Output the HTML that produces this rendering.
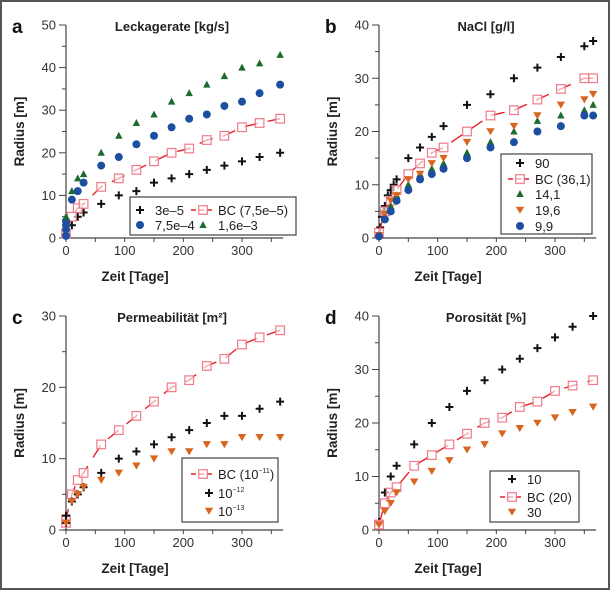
<!DOCTYPE html>
<html><head><meta charset="utf-8">
<style>
html,body{margin:0;padding:0;background:#fff;}
svg{display:block;font-family:"Liberation Sans",sans-serif;}
</style></head>
<body>
<svg id="chart" width="610" height="590" viewBox="0 0 610 590">
<rect x="1" y="1" width="608" height="588" fill="none" stroke="#555" stroke-width="2"/>
</svg>
<script>
// ---- Panel a data: Leckagerate ----
const aDays = [0,10,20,30,60,90,120,150,180,210,240,270,300,330,365];
const aS1 = [1,3,5,6,8,10,11,13,14,15,16,17,18,19,20];          // 3e-5
const aBC = [1,5,7,8,12,14,16,18,20,21,23,24,26,27,28];         // BC 7,5e-5
const aS3Days = [0,0,0,0,10,20,30,60,90,120,150,180,210,240,270,300,330,365];
const aS3 = [0.5,2,3,4,9,11,13,17,19,22,24,26,28,29,31,32,34,36]; // 7,5e-4
const aS4 = [5,11,14,15,20,24,27,29,32,34,36,38,40,41,43];      // 1,6e-3
// ---- Panel b data: NaCl ----
const bDays90 = [0,2,5,8,10,15,20,25,30,50,70,90,110,150,190,230,270,310,350,365];
const b90 = [0.5,2,4,5,6,8,9,10,11,15,17,19,21,25,27,30,32,34,36,37];
const bDays = [0,10,20,30,50,70,90,110,150,190,230,270,310,350,365];
const bBC = [1,5,7,9,12,14,16,17,20,23,24,26,28,30,30];
const b141 = [0.5,4,6,8,10,12,13,14,16,18,20,22,23,24,25];
const b196 = [0.5,4.5,7,8,11,12,14,15,18,20,21,23,25,26,27];
const b99 = [0.3,3.5,5,7,9,11,12,13,15,17,18,20,21,23,23];
// ---- Panel c data: Permeabilitaet ----
const cDays = [0,0,10,20,30,60,90,120,150,180,210,240,270,300,330,365];
const cBC = [1,1.5,5,7,8,12,14,16,18,20,21,23,24,26,27,28];
const c12 = [1,2,4,5,6,8,10,11,12,13,14,15,16,16,17,18];
const c13 = [1,1,4,5,6,7,8,9,10,11,11,12,12,13,13,13];
// ---- Panel d data: Porositaet ----
const dDays = [0,0,10,20,30,60,90,120,150,180,210,240,270,300,330,365];
const d10 = [1,1.5,7,10,12,16,20,23,26,28,30,32,34,36,38,40];
const dBC = [1,1,5,7,8,12,14,16,18,20,21,23,24,26,27,28];
const d30 = [1,1,3.5,5,7,9,11,13,15,16,18,19,20,21,22,23];
// tick labels
const xTicks = [0,100,200,300];

const NS="http://www.w3.org/2000/svg";
const svg=document.getElementById('chart');
function mk(tag,attrs,parent){const e=document.createElementNS(NS,tag);for(const k in attrs)e.setAttribute(k,attrs[k]);(parent||svg).appendChild(e);return e;}
const RED='#e3222b', PINK='#f07a8a', BLUE='#1c4f9f', GREEN='#1c6b2e', ORANGE='#d8661f';

function marker(g,type,x,y){
  let e;
  if(type==='plus'){
    e=mk('path',{d:`M${x-4},${y}H${x+4}M${x},${y-4}V${y+4}`,stroke:'#111','stroke-width':2,fill:'none'},g);
  }else if(type==='square'){
    e=mk('rect',{x:x-4.3,y:y-4.3,width:8.6,height:8.6,fill:'#fff','fill-opacity':0.6,stroke:PINK,'stroke-width':1.2},g);
  }else if(type==='circle'){
    e=mk('circle',{cx:x,cy:y,r:4,fill:BLUE},g);
  }else if(type==='tri'){
    e=mk('path',{d:`M${x},${y-4}L${x+3.7},${y+3}L${x-3.7},${y+3}Z`,fill:GREEN},g);
  }else if(type==='dtri'){
    e=mk('path',{d:`M${x},${y+3.8}L${x+4.2},${y-3.3}L${x-4.2},${y-3.3}Z`,fill:ORANGE},g);
  }
  return e;
}

function panel(o){
  const g=mk('g',{});
  
  
  const sx=d=>o.x0+d*176/300;
  const sy=v=>o.y0-(v/o.ymax)*(o.y0-o.ytop);
  const ax=mk('path',{d:`M${o.x0},${o.ytop}V${o.y0}M${o.x0-3},${o.y0}H${sx(365)+3}`,stroke:'#444','stroke-width':1.2,fill:'none'},g);
  
  
  for(let v=0;v<=o.ymax;v+=o.ystep/2){
    const major=Math.abs(v/o.ystep-Math.round(v/o.ystep))<1e-6;
    mk('line',{x1:o.x0-(major?7:4),x2:o.x0,y1:sy(v),y2:sy(v),stroke:'#444','stroke-width':1},g);
    if(major){
      const t=mk('text',{x:o.x0-10,y:sy(v)+4.5,'text-anchor':'end','font-size':13,fill:'#333'},g);
      t.textContent=v;
      
      
    }
  }
  for(let d=0;d<=350;d+=50){
    mk('line',{x1:sx(d),x2:sx(d),y1:o.y0,y2:o.y0+4,stroke:'#444','stroke-width':1},g);
  }
  xTicks.forEach(d=>{
    const t=mk('text',{x:sx(d),y:o.y0+17,'text-anchor':'middle','font-size':13,fill:'#333'},g);
    t.textContent=d;
    
    
  });
  const lt=mk('text',{x:o.x0-54,y:o.ytop+8,'font-size':19,'font-weight':'bold',fill:'#111'},g);
  lt.textContent=o.letter;
  
  
  const tt=mk('text',{x:o.tx,y:o.ytop+6,'text-anchor':'middle','font-size':13,'font-weight':'bold',fill:'#222'},g);
  tt.textContent=o.title;
  
  
  const yt=mk('text',{transform:`translate(${o.x0-42},${(o.ytop+o.y0)/2}) rotate(-90)`,'text-anchor':'middle','font-size':13.5,'font-weight':'bold',fill:'#222'},g);
  yt.textContent='Radius [m]';
  
  
  const xt=mk('text',{x:o.x0+69,y:o.y0+43,'text-anchor':'middle','font-size':13.5,'font-weight':'bold',fill:'#222'},g);
  xt.textContent='Zeit [Tage]';
  
  
  o.series.forEach(s=>{
    const sg=mk('g',{},g);
    
    
    if(s.line){
      const pts=s.days.map((d,i)=>`${sx(d)},${sy(s.vals[i])}`).join(' ');
      mk('polyline',{points:pts,fill:'none',stroke:RED,'stroke-width':1.4,'stroke-dasharray':'14,10'},sg);
    }
    s.days.forEach((d,i)=>{
      const m=marker(sg,s.type,sx(d),sy(s.vals[i]));
      
      
    });
  });
  const L=o.legend;
  const lg=mk('g',{},g);
  
  
  mk('rect',{x:L.x,y:L.y,width:L.w,height:L.h,fill:'#fff',stroke:'#444','stroke-width':1.2},lg);
  L.items.forEach(it=>{
    const eg=mk('g',{},lg);
    
    
    if(it.type==='square') mk('line',{x1:it.sx-12,x2:it.sx+12,y1:it.y,y2:it.y,stroke:RED,'stroke-width':1.4,'stroke-dasharray':'5,3'},eg);
    marker(eg,it.type,it.sx,it.y);
    const t=mk('text',{x:it.tx,y:it.y+5,'font-size':13,fill:'#222'},eg);
    t.innerHTML=it.label;
  });
}

panel({name:'panel-a-leckagerate',letter:'a',title:'Leckagerate [kg/s]',tx:172,x0:66,y0:238,ytop:25,ymax:50,ystep:10,
  series:[
    {name:'series-3e-5',type:'plus',days:aDays,vals:aS1},
    {name:'series-bc-7-5e-5',type:'square',line:true,days:aDays,vals:aBC},
    {name:'series-7-5e-4',type:'circle',days:aS3Days,vals:aS3},
    {name:'series-1-6e-3',type:'tri',days:aDays,vals:aS4}],
  legend:{x:130,y:197,w:166,h:38,items:[
    {type:'plus',sx:140,tx:155,y:210,label:'3e–5'},
    {type:'square',sx:203,tx:218,y:210,label:'BC (7,5e–5)'},
    {type:'circle',sx:140,tx:155,y:225,label:'7,5e–4'},
    {type:'tri',sx:203,tx:218,y:225,label:'1,6e–3'}]}
});
panel({name:'panel-b-nacl',letter:'b',title:'NaCl [g/l]',tx:486,x0:379,y0:238,ytop:25,ymax:40,ystep:10,
  series:[
    {name:'series-90',type:'plus',days:bDays90,vals:b90},
    {name:'series-bc-36-1',type:'square',line:true,days:bDays,vals:bBC},
    {name:'series-14-1',type:'tri',days:bDays,vals:b141},
    {name:'series-19-6',type:'dtri',days:bDays,vals:b196},
    {name:'series-9-9',type:'circle',days:bDays,vals:b99}],
  legend:{x:501,y:154,w:91,h:80,items:[
    {type:'plus',sx:520,tx:535,y:163,label:'90'},
    {type:'square',sx:520,tx:535,y:179,label:'BC (36,1)'},
    {type:'tri',sx:520,tx:535,y:194,label:'14,1'},
    {type:'dtri',sx:520,tx:535,y:210,label:'19,6'},
    {type:'circle',sx:520,tx:535,y:226,label:'9,9'}]}
});
panel({name:'panel-c-permeabilitaet',letter:'c',title:'Permeabilität [m²]',tx:172,x0:66,y0:530,ytop:316,ymax:30,ystep:10,
  series:[
    {name:'series-bc-1e-11',type:'square',line:true,days:cDays,vals:cBC},
    {name:'series-1e-12',type:'plus',days:cDays,vals:c12},
    {name:'series-1e-13',type:'dtri',days:cDays,vals:c13}],
  legend:{x:182,y:458,w:96,h:64,items:[
    {type:'square',sx:203,tx:218,y:474,label:'BC (10<tspan font-size="7" dy="-6">−11</tspan><tspan dy="6">)</tspan>'},
    {type:'plus',sx:209,tx:218,y:493,label:'10<tspan font-size="7" dy="-6">−12</tspan>'},
    {type:'dtri',sx:209,tx:218,y:511,label:'10<tspan font-size="7" dy="-6">−13</tspan>'}]}
});
panel({name:'panel-d-porositaet',letter:'d',title:'Porosität [%]',tx:486,x0:379,y0:530,ytop:316,ymax:40,ystep:10,
  series:[
    {name:'series-10',type:'plus',days:dDays,vals:d10},
    {name:'series-bc-20',type:'square',line:true,days:dDays,vals:dBC},
    {name:'series-30',type:'dtri',days:dDays,vals:d30}],
  legend:{x:490,y:471,w:89,h:51,items:[
    {type:'plus',sx:512,tx:527,y:479,label:'10'},
    {type:'square',sx:512,tx:527,y:497,label:'BC (20)'},
    {type:'dtri',sx:512,tx:527,y:512,label:'30'}]}
});
</script>
</body></html>
